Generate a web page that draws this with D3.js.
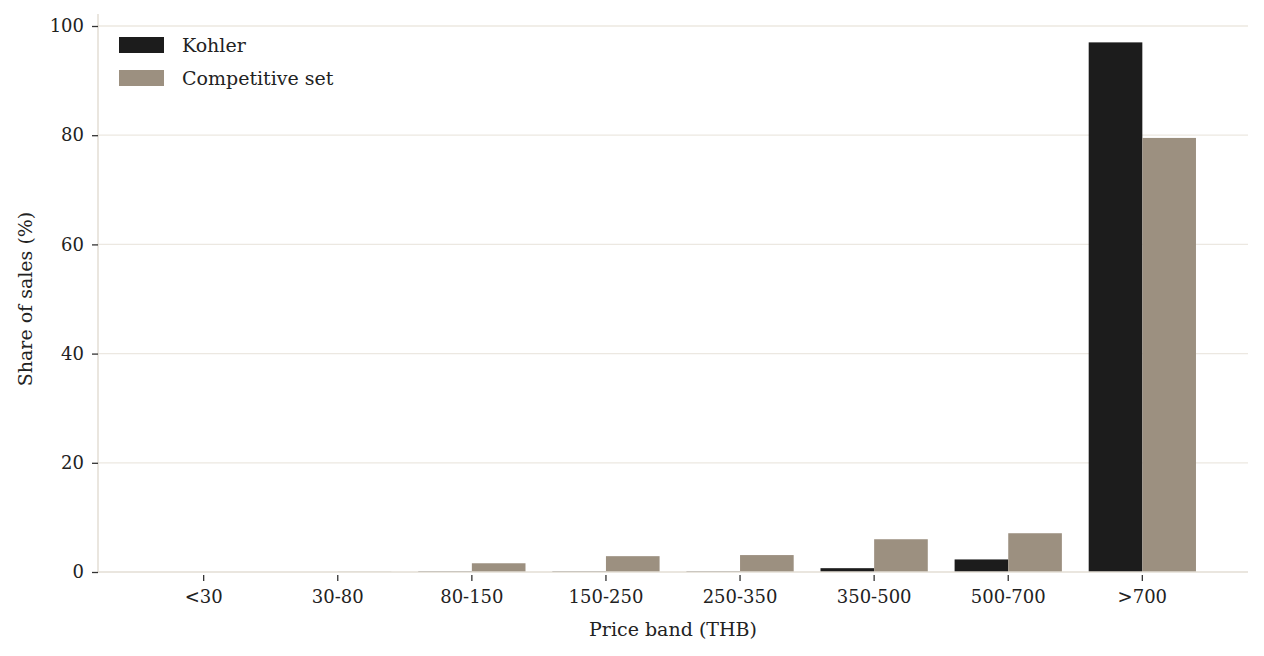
<!DOCTYPE html>
<html><head><meta charset="utf-8">
<script src="https://cdn.jsdelivr.net/npm/d3@7"></script>
<style>
html,body{margin:0;padding:0;background:#fff;}
svg text{font-family:Georgia,"DejaVu Serif","Liberation Serif",serif;fill:#222;}
</style></head>
<body><svg id="chart" width="1264" height="656"></svg>
<script>
const categories = ["<30","30-80","80-150","150-250","250-350","350-500","500-700",">700"];
const seriesNames = ["Kohler","Competitive set"];
const kohler = [0, 0, 0.1, 0.1, 0.1, 0.7, 2.3, 97.0];
const competitive = [0, 0.05, 1.6, 2.9, 3.1, 6.0, 7.1, 79.5];
const yTicks = [0, 20, 40, 60, 80, 100];
const colors = ["#1c1c1c", "#9c9080"];

const svg = d3.select("#chart");
const L = 98, R = 1248, T = 26, B = 572;
const x = d3.scaleBand().domain(categories).range([L, R]).paddingInner(0).paddingOuter(0.288);
const step = x.step();
const x1 = d3.scaleBand().domain(seriesNames).range([0.1*step, 0.9*step]).padding(0);
const y = d3.scaleLinear().domain([0, 100]).range([B, T]);

// gridlines
svg.append("g").selectAll("line").data(yTicks.filter(d=>d>0)).join("line")
  .attr("x1", L).attr("x2", R).attr("y1", d=>y(d)).attr("y2", d=>y(d))
  .attr("stroke", "#ece8e1").attr("stroke-width", 1.3);

const data = [kohler, competitive];
const g = svg.append("g");
seriesNames.forEach((s, si) => {
  g.append("g").selectAll("rect").data(categories).join("rect")
    .attr("x", d => x(d) + x1(s))
    .attr("width", x1.bandwidth())
    .attr("y", (d,i) => y(data[si][i]))
    .attr("height", (d,i) => B - y(data[si][i]))
    .attr("fill", colors[si]);
});

// axes
const yAxis = d3.axisLeft(y).tickValues(yTicks).tickSize(6).tickPadding(8);
const ya = svg.append("g").attr("transform", `translate(${L},0)`).call(yAxis);
ya.select(".domain").attr("stroke", "#e3ded5").attr("stroke-width", 1.5).attr("d", `M0,${T-12}V${B}`);
ya.selectAll(".tick line").attr("stroke", "#333").attr("stroke-width", 1.3);
ya.selectAll(".tick text").style("font-size", "18px").attr("fill", "#222");

const xAxis = d3.axisBottom(x).tickSize(6).tickPadding(12);
const xa = svg.append("g").attr("transform", `translate(0,${B})`).call(xAxis);
xa.select(".domain").attr("stroke", "#e3ded5").attr("stroke-width", 1.5).attr("d", `M${L},0H${R}`);
xa.selectAll(".tick line").attr("stroke", "#333").attr("stroke-width", 1.3).attr("y1", 3).attr("y2", 9);
xa.selectAll(".tick text").style("font-size", "18px").attr("fill", "#222");

svg.append("text").attr("x", (L+R)/2).attr("y", 636).attr("text-anchor", "middle")
  .style("font-size", "19px").text("Price band (THB)");
svg.append("text").attr("transform", `translate(32,${(T+B)/2}) rotate(-90)`).attr("text-anchor", "middle")
  .style("font-size", "19px").text("Share of sales (%)");

// legend
const lg = svg.append("g");
seriesNames.forEach((s, i) => {
  lg.append("rect").attr("x", 119).attr("y", 37 + i*33).attr("width", 45).attr("height", 16).attr("fill", colors[i]);
  lg.append("text").attr("x", 182).attr("y", 52 + i*33).style("font-size", "19px").text(s);
});
</script></body></html>
